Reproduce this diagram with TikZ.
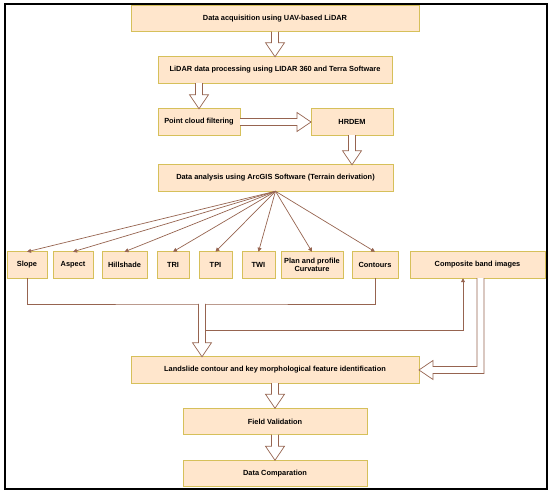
\documentclass[tikz,border=0pt]{standalone}
\usepackage{fontspec}
\setsansfont{Liberation Sans}
\usetikzlibrary{calc}
\usetikzlibrary{arrows.meta}

\definecolor{boxfill}{RGB}{255,230,204}
\definecolor{boxline}{RGB}{214,192,90}
\definecolor{flowbrown}{RGB}{150,100,80}

% Hollow block arrow from #1 to #2.
\newcommand{\blockarrow}[2]{%
  \coordinate (ba-h) at ($(#2)!14pt!(#1)$);
  \draw[blockarr] ($(#1)!3.5pt!90:(#2)$) -- ($(ba-h)!3.5pt!90:(#2)$)
    -- ($(ba-h)!9.5pt!90:(#2)$) -- (#2) -- ($(ba-h)!9.5pt!-90:(#2)$)
    -- ($(ba-h)!3.5pt!-90:(#2)$) -- ($(#1)!3.5pt!-90:(#2)$);}

\begin{document}
\begin{tikzpicture}[
     x=1pt,y=-1pt,
     box/.style={draw=boxline,fill=boxfill,line width=0.8pt,minimum height=26.5pt,
       inner sep=1pt,outer sep=0pt,align=center,
       font=\sffamily\bfseries\fontsize{7.4}{8.4}\selectfont},
     blockarr/.style={draw=flowbrown,fill=white,line width=0.7pt,line join=miter},
     fan/.style={flowbrown,line width=0.7pt,-{Triangle[length=4pt,width=4pt]}},
     link/.style={flowbrown,line width=0.7pt}
   ]
   \useasboundingbox (0,0) rectangle (550,494);
   \draw[line width=1.2pt] (5,4) rectangle (547,489);
   % Processing chain.
   \node[box,minimum width=288pt] (acq) at (275,18.5) {Data acquisition using UAV-based LiDAR};
   \node[box,minimum width=234pt] (proc) at (275,70) {LiDAR data processing using LIDAR 360 and Terra Software};
   \node[box,minimum width=82pt] (pcf) at (199,122) {Point cloud filtering};
   \node[box,minimum width=82pt] (hrdem) at (352,122) {HRDEM};
   \node[box,minimum width=235pt] (analysis) at (275.5,178) {Data analysis using ArcGIS Software (Terrain derivation)};
   % Terrain derivatives.
   \node[box,minimum width=40pt] (slope) at (27,265) {Slope};
   \node[box,minimum width=40pt] (aspect) at (73,265) {Aspect};
   \node[box,minimum width=45pt] (hillshade) at (124.5,265) {Hillshade};
   \node[box,minimum width=32pt] (tri) at (173,265) {TRI};
   \node[box,minimum width=33pt] (tpi) at (215.5,265) {TPI};
   \node[box,minimum width=33pt] (twi) at (258.5,265) {TWI};
   \node[box,minimum width=62pt] (plan) at (312,265) {Plan and profile\\Curvature};
   \node[box,minimum width=46pt] (contours) at (375,265) {Contours};
   \node[box,minimum width=135pt] (composite) at (477.5,265) {Composite band images};
   % Identification and validation.
   \node[box,minimum width=288pt] (landslide) at (275,370) {Landslide contour and key morphological feature identification};
   \node[box,minimum width=184pt] (field) at (275,421.5) {Field Validation};
   \node[box,minimum width=184pt] (compare) at (275,473.5) {Data Comparation};
   % Block arrows.
   \blockarrow{acq.south}{proc.north}
   \blockarrow{proc.south -| pcf.north}{pcf.north}
   \blockarrow{pcf.east}{hrdem.west}
   \blockarrow{hrdem.south}{hrdem.south |- analysis.north}
   \blockarrow{landslide.south}{field.north}
   \blockarrow{field.south}{compare.north}
   % Fan of derivatives.
   \foreach \b in {slope,aspect,hillshade,tri,tpi,twi,plan,contours}
     \draw[fan] (analysis.south) -- (\b.north);
   % Merging lines.
   \coordinate (join) at (202,304);
   \coordinate (branch) at ($(join)+(3.5,26)$);
   \coordinate (lturn) at ($(composite.south)+(3,0)$);
   \draw[link] (slope.south) |- (join) -| (contours.south);
   \draw[fan] (branch) -| ($(composite.south)+(-14.5,0)$);
   \blockarrow{join}{landslide.north -| join}
   \draw[blockarr] ($(lturn)+(-3.5,0)$) |- ($(landslide.east)+(14,-3.5)$)
     -- ($(landslide.east)+(14,-9.5)$) -- (landslide.east) -- ($(landslide.east)+(14,9.5)$)
     -- ($(landslide.east)+(14,3.5)$) -| ($(lturn)+(3.5,0)$);
\end{tikzpicture}
\end{document}
